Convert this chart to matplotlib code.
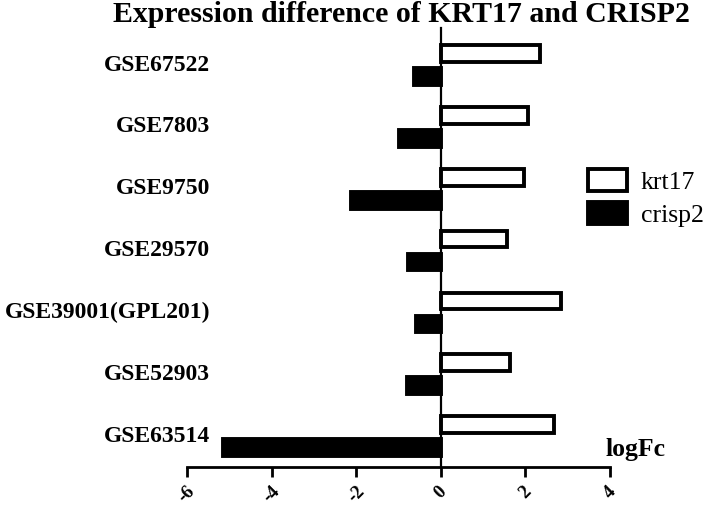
import matplotlib
matplotlib.use('Agg')
import matplotlib.pyplot as plt
import numpy as np

# %% Data
datasets = ['GSE67522', 'GSE7803', 'GSE9750', 'GSE29570',
            'GSE39001(GPL201)', 'GSE52903', 'GSE63514']
krt17 = [2.35, 2.05, 1.97, 1.56, 2.85, 1.64, 2.67]
crisp2 = [-0.64, -1.0, -2.12, -0.77, -0.59, -0.80, -5.14]
xticks = [-6, -4, -2, 0, 2, 4]

plt.rcParams['font.family'] = ['Liberation Serif', 'DejaVu Serif']

# %% Plot
fig = plt.figure(figsize=(7.09, 5.09), dpi=100)
ax = fig.add_axes([187 / 709, 42 / 509, 423 / 709, 439 / 509])

n = len(datasets)
ypos = np.arange(n)[::-1]
off = 0.186
h = 0.27
ax.barh(ypos + off, krt17, height=h, color='white', edgecolor='black',
        linewidth=2.8, label='krt17')
ax.barh(ypos - off, crisp2, height=h, color='black', edgecolor='black',
        linewidth=2.8, label='crisp2')

ax.set_xlim(-6, 4)
ax.set_ylim(-0.50, 6.60)
ax.set_xticks(xticks)
ax.set_xticklabels([str(t) for t in xticks], rotation=45, fontsize=13.5,
                   fontweight='bold')
ax.tick_params(axis='x', length=7.5, width=2, pad=4)
ax.set_yticks([])

ax.spines['top'].set_visible(False)
ax.spines['right'].set_visible(False)
ax.spines['left'].set_position(('data', 0))
ax.spines['left'].set_linewidth(1.6)
ax.spines['bottom'].set_linewidth(2)

for y, name in zip(ypos, datasets):
    ax.text(-5.45, y, name, ha='right', va='center', fontsize=17,
            fontweight='bold', clip_on=False)

ax.text(3.9, -0.22, 'logFc', ha='left', va='center', fontsize=18.5,
        fontweight='bold', clip_on=False)

fig.text(0.566, 1 - 22 / 509, 'Expression difference of KRT17 and CRISP2',
         ha='center', va='baseline', fontsize=21.5, fontweight='bold')

ax.legend(loc='upper left', bbox_to_anchor=(588 / 709, 1 - 169 / 509),
          bbox_transform=fig.transFigure, frameon=False, fontsize=18.5,
          handlelength=1.5, handleheight=0.95, handletextpad=0.55,
          labelspacing=0.3, borderpad=0, borderaxespad=0)

fig.savefig('out.png', dpi=100)
